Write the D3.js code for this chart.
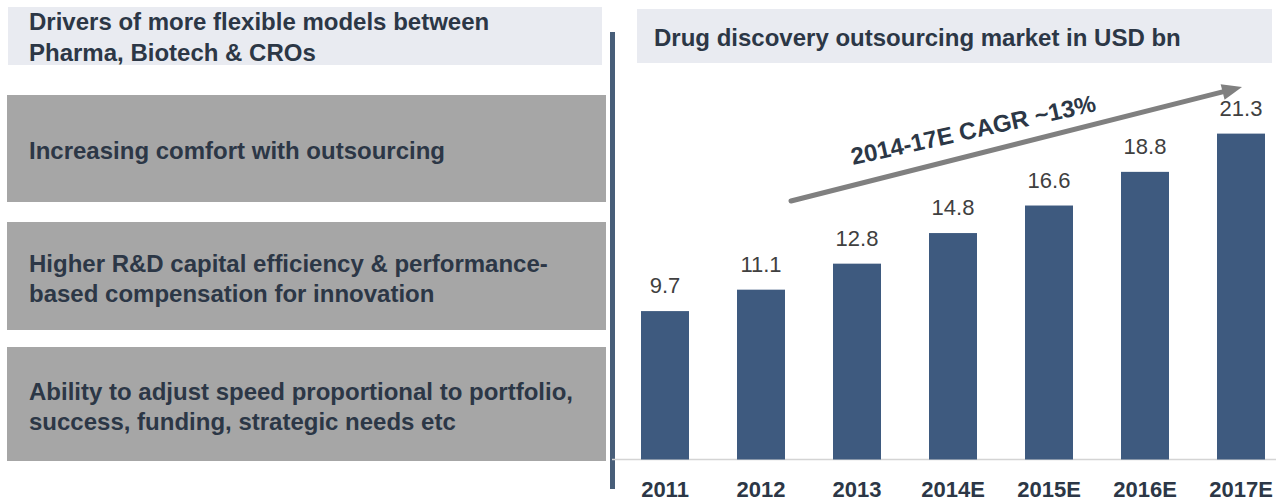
<!DOCTYPE html>
<html>
<head>
    <meta charset="utf-8">
    <title>Drug discovery outsourcing market</title>
    <script type="text/javascript" src="https://cdn.jsdelivr.net/npm/d3@7"></script>
    <style>
        body {
            margin: 0;
            background: #fff;
        }

        text {
            font-family: "Liberation Sans", Arial, sans-serif;
        }

        .bar {
            fill: #3e5a7f;
        }

        .value {
            font-size: 22px;
            fill: #404040;
        }

        .box-text, .title {
            font-size: 24px;
            font-weight: bold;
            fill: #2c3746;
        }

        .year {
            font-size: 22px;
            font-weight: bold;
            fill: #2c3746;
        }
    </style>
</head>

<body>

<script type="text/javascript">
    var width = 1280,
            height = 504;

    // chart data
    var years = ["2011", "2012", "2013", "2014E", "2015E", "2016E", "2017E"];
    var market = [9.7, 11.1, 12.8, 14.8, 16.6, 18.8, 21.3];

    // left panel texts
    var headerLines = ["Drivers of more flexible models between", "Pharma, Biotech & CROs"];
    var drivers = [
        ["Increasing comfort with outsourcing"],
        ["Higher R&D capital efficiency & performance-", "based compensation for innovation"],
        ["Ability to adjust speed proportional to portfolio,", "success, funding, strategic needs etc"]
    ];
    var chartTitle = "Drug discovery outsourcing market in USD bn";
    var cagrLabel = "2014-17E CAGR ~13%";

    var svg = d3.select("body").append("svg")
            .attr("width", width)
            .attr("height", height);

    // ---- left panel ----
    svg.append("rect")
            .attr("x", 8).attr("y", 7)
            .attr("width", 594).attr("height", 58)
            .attr("fill", "#e9ebf1");

    svg.selectAll("text.title-left")
            .data(headerLines)
            .enter()
            .append("text")
            .attr("class", "title")
            .attr("x", 29)
            .attr("y", function (d, i) { return 30 + i * 31; })
            .text(function (d) { return d; });

    var boxes = [
        {y: 95, h: 107},
        {y: 222, h: 108},
        {y: 347, h: 114}
    ];

    var box = svg.selectAll("g.box")
            .data(drivers)
            .enter()
            .append("g")
            .attr("class", "box")
            .attr("transform", function (d, i) { return "translate(7," + boxes[i].y + ")"; });

    box.append("rect")
            .attr("width", 599)
            .attr("height", function (d, i) { return boxes[i].h; })
            .attr("fill", "#a6a6a6");

    box.each(function (lines, i) {
        var h = boxes[i].h,
                lh = 30,
                y0 = h / 2 - (lines.length - 1) * lh / 2 + 10.5;
        d3.select(this).selectAll("text")
                .data(lines)
                .enter()
                .append("text")
                .attr("class", "box-text")
                .attr("x", 22)
                .attr("y", function (d, j) { return y0 + j * lh; })
                .text(function (d) { return d; });
    });

    // divider
    svg.append("line")
            .attr("x1", 612.5).attr("x2", 612.5)
            .attr("y1", 32).attr("y2", 489)
            .attr("stroke", "#485e79")
            .attr("stroke-width", 5);

    // ---- right chart ----
    svg.append("rect")
            .attr("x", 637).attr("y", 9)
            .attr("width", 635).attr("height", 54)
            .attr("fill", "#e9ebf1");

    svg.append("text")
            .attr("class", "title")
            .attr("x", 654)
            .attr("y", 46)
            .text(chartTitle);

    var x = d3.scaleBand()
            .domain(years)
            .range([641, 1265])
            .paddingInner(0.5)
            .paddingOuter(0);

    var y = d3.scaleLinear()
            .domain([0, 25])
            .range([459.5, 77]);

    svg.append("line")
            .attr("x1", 612).attr("x2", 1276)
            .attr("y1", y(0)).attr("y2", y(0))
            .attr("stroke", "#d4d4d4")
            .attr("stroke-width", 1.5);

    svg.selectAll("rect.bar")
            .data(market)
            .enter()
            .append("rect")
            .attr("class", "bar")
            .attr("x", function (d, i) { return x(years[i]); })
            .attr("y", function (d) { return y(d); })
            .attr("width", x.bandwidth())
            .attr("height", function (d) { return y(0) - y(d); });

    svg.selectAll("text.value")
            .data(market)
            .enter()
            .append("text")
            .attr("class", "value")
            .attr("text-anchor", "middle")
            .attr("x", function (d, i) { return x(years[i]) + x.bandwidth() / 2; })
            .attr("y", function (d) { return y(d) - 18; })
            .text(function (d) { return d.toFixed(1); });

    var xAxis = svg.append("g")
            .attr("transform", "translate(0," + y(0) + ")")
            .call(d3.axisBottom(x).tickSize(0));
    xAxis.select(".domain").remove();
    xAxis.attr("font-size", null).attr("font-family", null);
    xAxis.selectAll("text")
            .attr("class", "year")
            .attr("y", 22)
            .attr("dy", "0.71em");

    // CAGR arrow
    var arrowFrom = [791, 201],
            arrowTo = [1242, 87];
    var ang = Math.atan2(arrowTo[1] - arrowFrom[1], arrowTo[0] - arrowFrom[0]);
    var headLen = 20, headW = 8;
    var bx = arrowTo[0] - headLen * Math.cos(ang),
            by = arrowTo[1] - headLen * Math.sin(ang);

    svg.append("line")
            .attr("x1", arrowFrom[0]).attr("y1", arrowFrom[1])
            .attr("x2", bx).attr("y2", by)
            .attr("stroke", "#808080")
            .attr("stroke-width", 5)
            .attr("stroke-linecap", "round");

    svg.append("path")
            .attr("d", "M" + arrowTo[0] + "," + arrowTo[1]
                    + "L" + (bx + headW * Math.sin(ang)) + "," + (by - headW * Math.cos(ang))
                    + "L" + (bx - headW * Math.sin(ang)) + "," + (by + headW * Math.cos(ang)) + "Z")
            .attr("fill", "#808080");

    svg.append("text")
            .attr("class", "title")
            .attr("text-anchor", "middle")
            .attr("transform", "translate(975,138)rotate(-12.5)")
            .text(cagrLabel);
</script>

</body>
</html>
